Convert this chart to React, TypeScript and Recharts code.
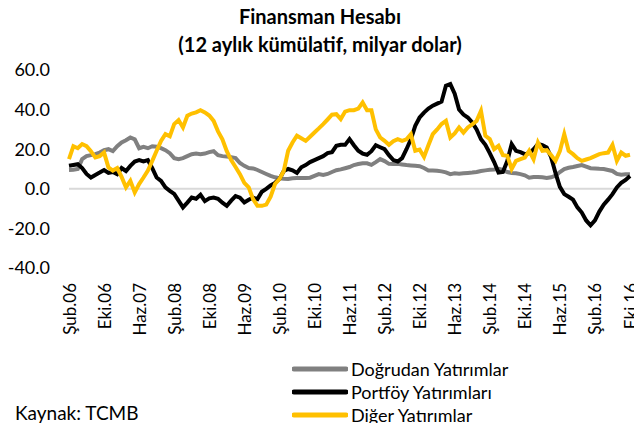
import React from 'react';
import { LineChart, Line, XAxis, YAxis, ReferenceLine } from 'recharts';

const monthNames = ['Oca', 'Şub', 'Mar', 'Nis', 'May', 'Haz', 'Tem', 'Ağu', 'Eyl', 'Eki', 'Kas', 'Ara'];
const startYear = 2006;
const startMonth = 1; // Şubat

const dogrudan = [
  9.5, 9.6, 10, 15, 16.5, 17, 17.5, 18.3, 19.5, 20, 19, 21.5, 23.4, 24.5, 25.9, 25,
  20.5, 21.2, 20.5, 21.5, 21.2, 20.5, 19.5, 18, 15.5, 15, 15.5, 16.5, 17.5, 17.8, 17.5, 17.8,
  18.5, 19, 17, 16.5, 16.3, 16, 15.5, 13, 11.6, 10.5, 10.3, 9.5, 8.5, 7.5, 6.5, 5.8,
  5.3, 5.1, 5, 5.3, 5.4, 5.5, 5.4, 5.6, 6.5, 7.4, 7, 7.5, 8.5, 9.4, 9.8, 10.4,
  11, 12, 12.5, 12.9, 12.9, 12.1, 13.5, 15, 14, 12.6, 12.5, 12.6, 12.3, 12, 11.8, 11.6,
  11.4, 10.5, 9.3, 9.3, 9.1, 8.8, 8.3, 7.4, 7.8, 7.6, 7.8, 8, 8.2, 8.5, 9, 9.3,
  9.6, 9.8, 10.1, 9.5, 8.5, 8, 7.8, 7.4, 6.8, 5.6, 6, 6, 5.8, 5.5, 5.8, 6.6,
  8.5, 10, 10.6, 11, 11.5, 12, 11.2, 10.4, 10.3, 10.1, 10, 9.5, 9, 7.5, 7.1, 7.3,
  7.4,
];

const portfoy = [
  11.6, 12, 12.4, 10.5, 7.5, 5.7, 7, 8.2, 9.5, 8, 8.5, 7.4, 10.5, 9, 11.6, 13.8,
  14.5, 13.8, 14.5, 10.4, 5.7, 4, 0.7, -1, -2.6, -6, -9.4, -7, -4.4, -5, -3, -6.2,
  -4.8, -4.4, -5, -7, -8.6, -6, -3.7, -4.5, -6.9, -5.5, -4.5, -5.2, -1.5, 0, 1.7, 3,
  4.9, 9, 10, 9.3, 8, 10.9, 12, 13.5, 14.5, 15.5, 16.5, 18, 18.5, 21.7, 22.2, 22.2,
  25.1, 22, 19.2, 17.8, 17.2, 19, 22, 21, 20, 17, 14.5, 13.8, 15.5, 20, 25, 31.8,
  36, 38.5, 40.5, 42, 43, 44, 52, 52.9, 48, 40, 37.5, 36, 33.5, 30, 25, 22.2,
  18, 13.5, 8.2, 8.5, 14, 22.6, 19.2, 18.5, 17.5, 18, 20, 22.6, 22, 20.9, 16, 8,
  1, -2.7, -4, -5.5, -9.4, -12, -16, -18.4, -16, -11.5, -8, -5.5, -2.7, 0.7, 3, 4.5,
  6.5,
];

const diger = [
  15, 21.5, 20.5, 22.6, 21.5, 19, 15.8, 16.5, 18.3, 10.8, 9.2, 10.5, 6, 0.7, 4, -1.8,
  2.4, 5.7, 9.2, 14.1, 19.2, 24.2, 27.6, 26.5, 32.7, 34.7, 31, 36.9, 38, 38.6, 39.7, 38.6,
  37, 34.3, 29, 25, 19, 14.5, 11, 7.4, 3, 0.7, -5.2, -8.6, -8.6, -8, -4, 2.4,
  4.9, 9, 19.2, 23.4, 26.8, 25.5, 24.2, 26.3, 28.4, 30.5, 32.7, 35, 37.4, 37.7, 35.2, 39,
  39.7, 39.7, 40.5, 43.6, 39.7, 39.7, 30, 25.9, 24.2, 22.2, 24, 25.1, 24.2, 25, 27.6, 19.2,
  19.8, 16.1, 22, 27.6, 30, 32.7, 34.3, 25.9, 28, 31, 28.4, 31, 32.5, 34.3, 39.4, 26.8,
  25.1, 20, 21.7, 17, 16.7, 10, 14.1, 15, 15.8, 19.2, 14.9, 23.4, 19.2, 19.5, 17, 14.1,
  19, 27.6, 19.2, 17.5, 15.5, 14.1, 14.8, 15.5, 16.5, 17.5, 18, 18.3, 22.2, 14.1, 18.3, 16.7,
  17.2,
];

const seriesNames = ['Doğrudan Yatırımlar', 'Portföy Yatırımları', 'Diğer Yatırımlar'];
const seriesColors = ['#808080', '#000000', '#FFC000'];
const seriesKeys = ['dogrudan', 'portfoy', 'diger'];
const yTicks = [-40, -20, 0, 20, 40, 60];
const titleLines = ['Finansman Hesabı', '(12 aylık kümülatif, milyar dolar)'];
const sourceText = 'Kaynak: TCMB';

const data = dogrudan.map((v, i) => {
  const m = (startMonth + i) % 12;
  const y = startYear + Math.floor((startMonth + i) / 12);
  return {
    label: `${monthNames[m]}.${String(y % 100).padStart(2, '0')}`,
    dogrudan: v,
    portfoy: portfoy[i],
    diger: diger[i],
  };
});

const FONT = 'Lato, Carlito, Calibri, "Open Sans", sans-serif';

const XTick = (props: any) => {
  const { x, y, payload } = props;
  return (
    <text
      x={x}
      y={y}
      transform={`rotate(-90, ${x}, ${y})`}
      textAnchor="end"
      dominantBaseline="central"
      fontSize={17}
      fontFamily={FONT}
      fill="#000"
    >
      {payload.value}
    </text>
  );
};

export default function App() {
  return (
    <div
      style={{
        position: 'absolute',
        left: 0,
        top: 0,
        width: 634,
        height: 423,
        background: '#fff',
        fontFamily: FONT,
        overflow: 'hidden',
      }}
    >
      <div
        style={{
          position: 'absolute',
          left: 0,
          width: 640,
          top: 2,
          textAlign: 'center',
          fontWeight: 700,
          fontSize: 20,
          lineHeight: '28px',
          color: '#000',
        }}
      >
        {titleLines.map((t) => (
          <div key={t}>{t}</div>
        ))}
      </div>
      <LineChart
        width={634}
        height={423}
        data={data}
        margin={{ top: 70, right: 4, left: 0, bottom: 55 }}
        style={{ position: 'absolute', left: 0, top: 0 }}
      >
        <XAxis
          dataKey="label"
          interval={7}
          tickLine={false}
          axisLine={false}
          tickSize={0}
          tickMargin={15}
          height={100}
          tick={<XTick />}
        />
        <YAxis
          domain={[-40, 60]}
          ticks={yTicks}
          width={69}
          tickLine={false}
          axisLine={false}
          tickSize={0}
          tickMargin={19}
          tickFormatter={(v: number) => v.toFixed(1)}
          tick={{ fontSize: 18, fontFamily: FONT, fill: '#000' }}
          allowDataOverflow
        />
        <ReferenceLine y={0} stroke="#d9d9d9" strokeWidth={2} ifOverflow="extendDomain" />
        {seriesKeys.map((k, i) => (
          <Line
            key={k}
            type="linear"
            dataKey={k}
            name={seriesNames[i]}
            stroke={seriesColors[i]}
            strokeWidth={4}
            dot={false}
            activeDot={false}
            isAnimationActive={false}
          />
        ))}
      </LineChart>
      <div style={{ position: 'absolute', left: 292, top: 357 }}>
        {seriesNames.map((n, i) => (
          <div key={n} style={{ display: 'flex', alignItems: 'center', height: 23 }}>
            <svg width={56} height={6} style={{ marginRight: 3 }}>
              <line x1={2} y1={3} x2={54} y2={3} stroke={seriesColors[i]} strokeWidth={5} strokeLinecap="round" />
            </svg>
            <span style={{ fontSize: 18, color: '#000', whiteSpace: 'nowrap' }}>{n}</span>
          </div>
        ))}
      </div>
      <div style={{ position: 'absolute', left: 15, top: 401, fontSize: 19, color: '#000', lineHeight: '24px' }}>
        {sourceText}
      </div>
    </div>
  );
}
